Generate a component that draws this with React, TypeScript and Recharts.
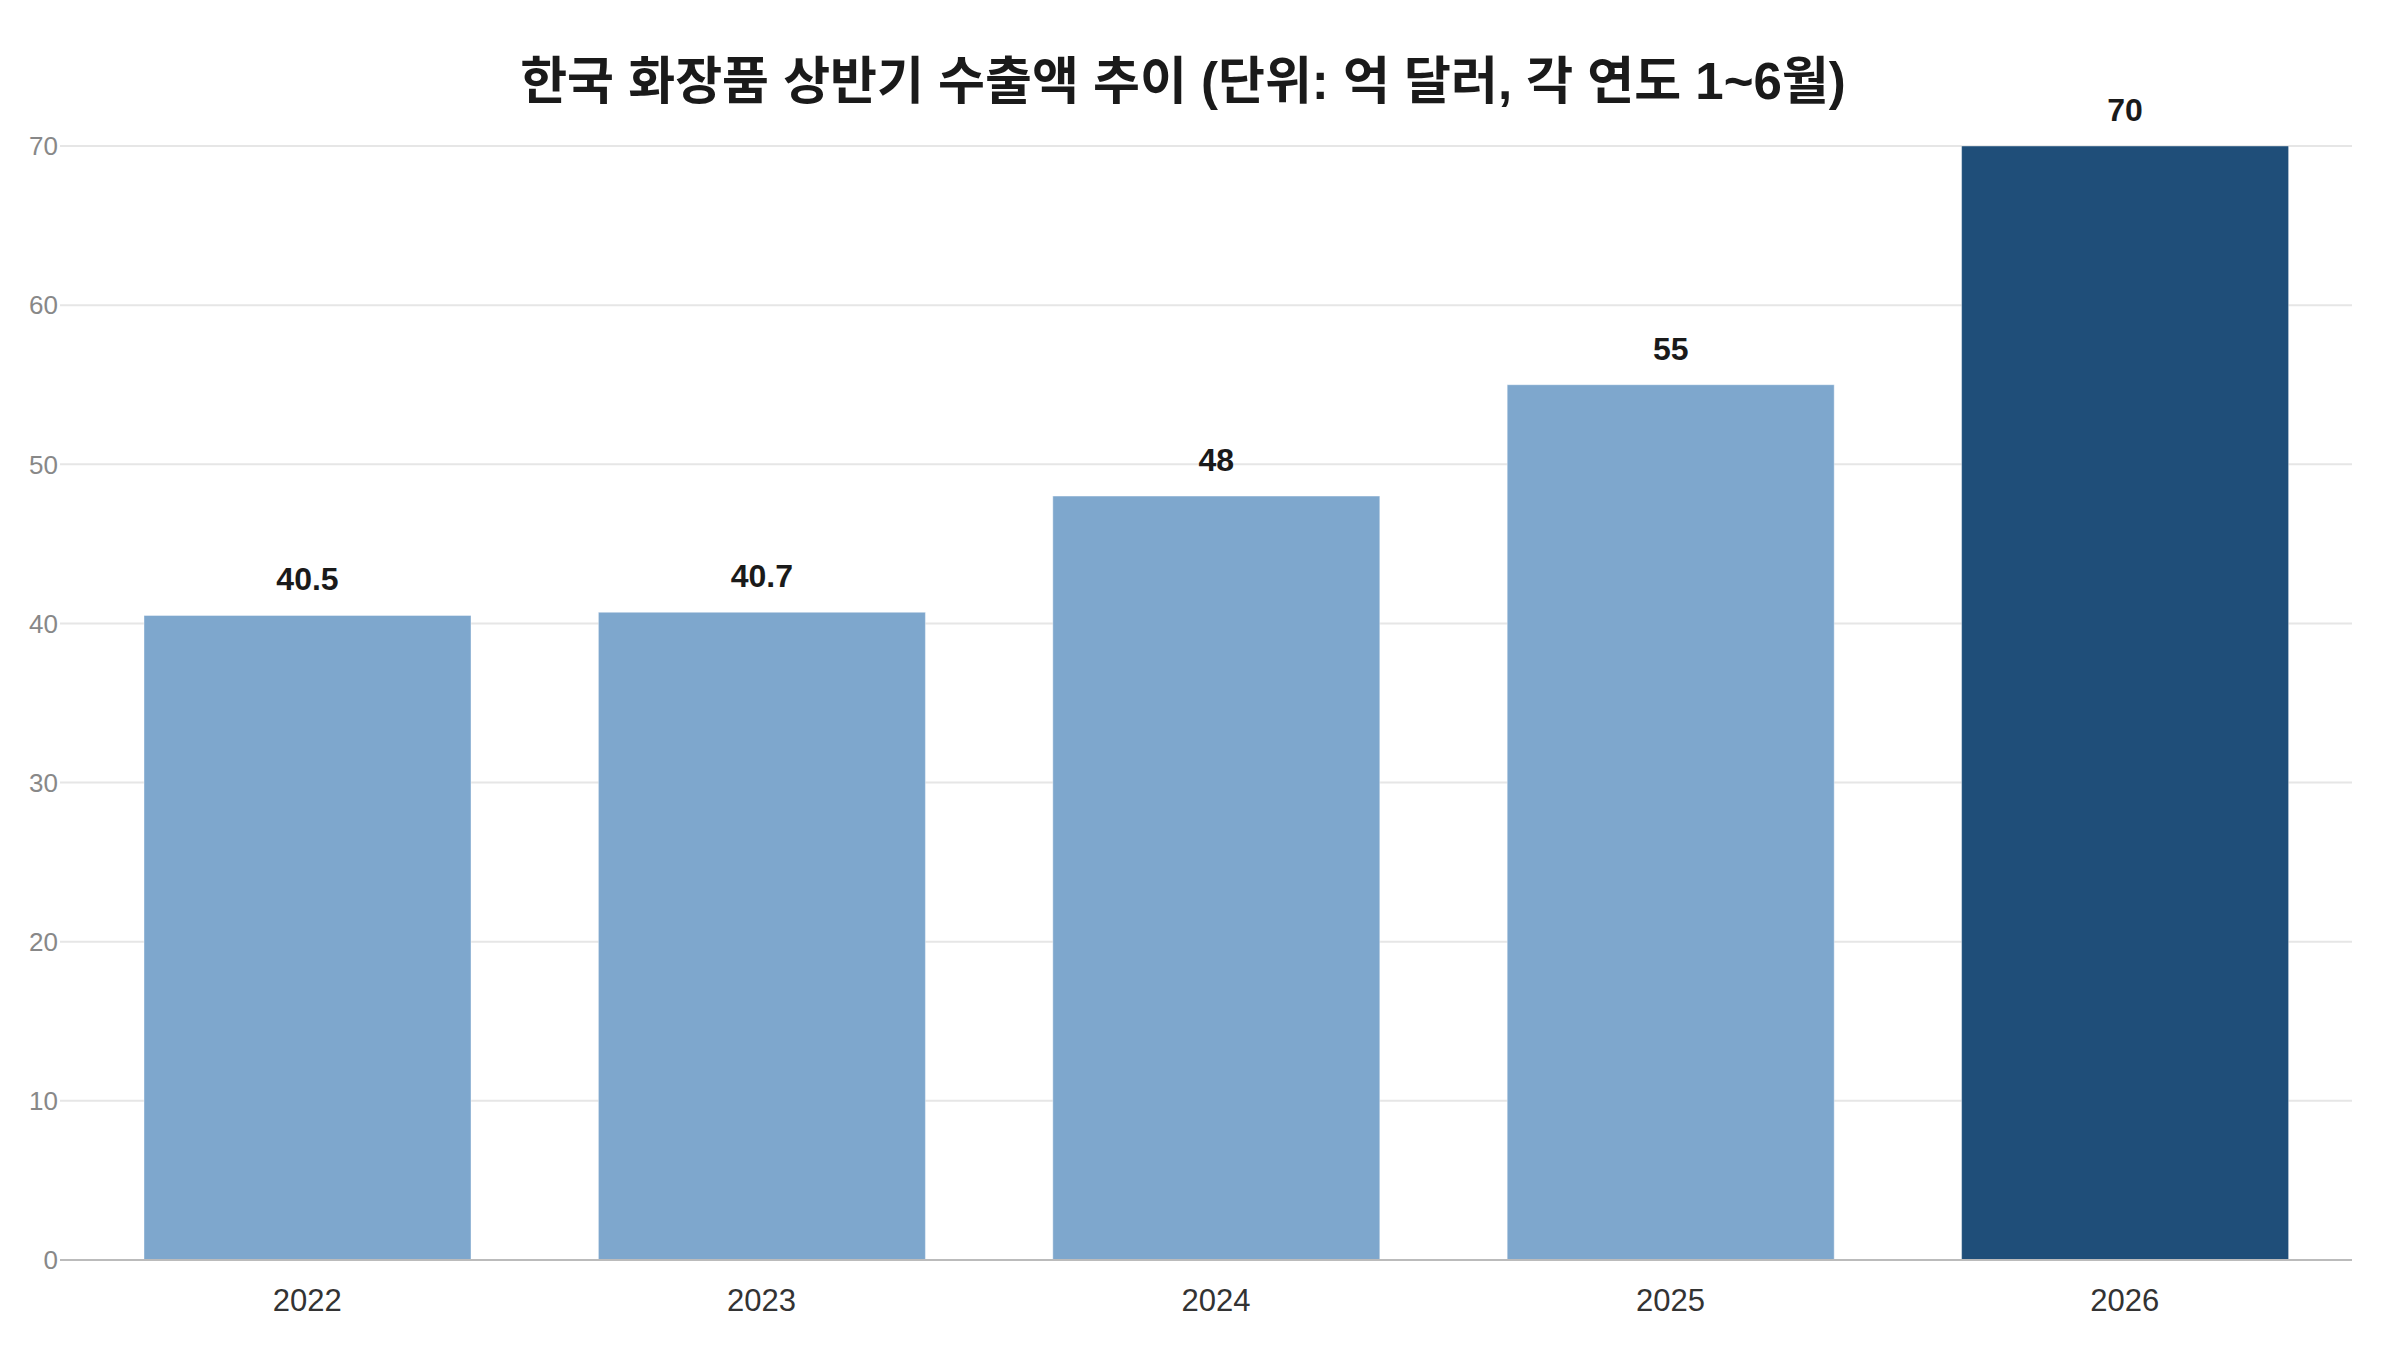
import { BarChart, Bar, XAxis, YAxis, CartesianGrid, Cell, LabelList } from 'recharts';

const title = '한국 화장품 상반기 수출액 추이 (단위: 억 달러, 각 연도 1~6월)';

const years = ['2022', '2023', '2024', '2025', '2026'];
const exportValues = [40.5, 40.7, 48, 55, 70];
const barColors = ['#7ea7cd', '#7ea7cd', '#7ea7cd', '#7ea7cd', '#1f4e79'];
const yTicks = [0, 10, 20, 30, 40, 50, 60, 70];

const font = '"Liberation Sans", Arial, "Noto Sans CJK KR", sans-serif';

export default function App() {
  // rows for recharts
  const chartData = years.map((year, i) => ({ year, value: exportValues[i] }));

  return (
    <div style={{ position: 'absolute', left: 0, top: 0, width: 2400, height: 1350, background: '#fff', fontFamily: font }}>
      <div
        style={{
          position: 'absolute',
          left: 0,
          top: 52,
          width: 2366,
          textAlign: 'center',
          fontSize: 51,
          fontWeight: 700,
          lineHeight: '60px',
          color: '#1a1a1a',
          fontFamily: font,
        }}
      >
        {title}
      </div>
      <BarChart
        width={2400}
        height={1350}
        data={chartData}
        margin={{ top: 146, right: 48, bottom: 0, left: 0 }}
      >
        <CartesianGrid vertical={false} stroke="#e6e6e6" strokeWidth={2} />
        <XAxis
          dataKey="year"
          height={90}
          padding={{ left: 20, right: 0 }}
          tickLine={false}
          tickSize={0}
          tickMargin={29}
          axisLine={{ stroke: '#bbbbbb', strokeWidth: 2 }}
          tick={{ fontSize: 31, fill: '#333', fontFamily: font }}
        />
        <YAxis
          width={60}
          domain={[0, 70]}
          ticks={yTicks}
          axisLine={false}
          tickLine={false}
          tickSize={0}
          tickMargin={2}
          tick={{ fontSize: 26, fill: '#888', fontFamily: font }}
        />
        <Bar dataKey="value" barSize={327} isAnimationActive={false} stroke="#ffffff" strokeOpacity={0.4} strokeWidth={1}>
          {chartData.map((d, i) => (
            <Cell key={d.year} fill={barColors[i]} />
          ))}
          <LabelList
            dataKey="value"
            position="top"
            offset={25}
            style={{ fontSize: 32, fontWeight: 700, fill: '#1a1a1a', fontFamily: font }}
          />
        </Bar>
      </BarChart>
    </div>
  );
}
